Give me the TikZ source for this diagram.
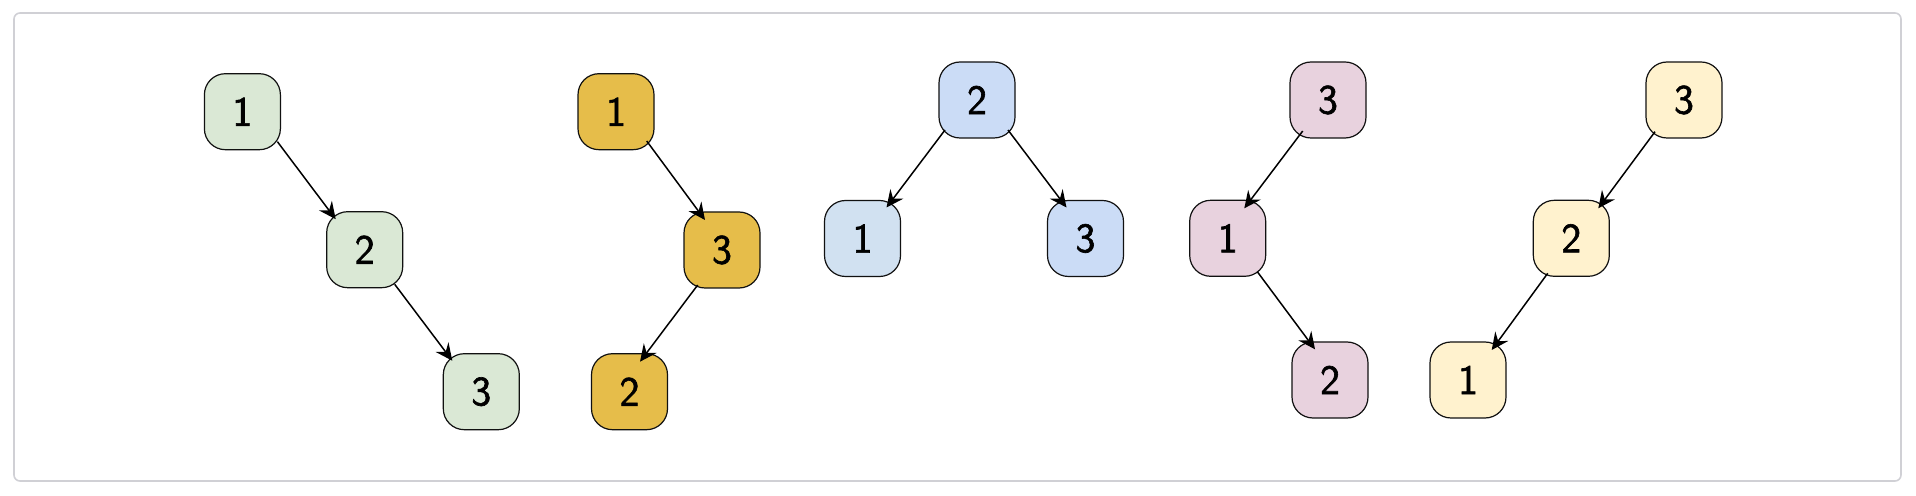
\documentclass[tikz,border=0pt]{standalone}
\usepackage{fontspec}
\newfontfamily\digitfont{Latin Modern Sans}[FakeBold=1.5]
\usetikzlibrary{calc,arrows.meta}
\definecolor{cgreen}{HTML}{DAE8D5}
\definecolor{cgold}{HTML}{E6BD4A}
\definecolor{cblue}{HTML}{CBDCF6}
\definecolor{cbluegrey}{HTML}{D1E1F1}
\definecolor{cpink}{HTML}{E8D2DE}
\definecolor{cyellow}{HTML}{FFF2CE}
\definecolor{cframe}{HTML}{D0D0D5}
\definecolor{cline}{HTML}{111111}
\begin{document}
\begin{tikzpicture}[x=0.5pt,y=-0.5pt,
  box/.style={draw=cline, line width=0.6pt, rounded corners=10.5pt,
    minimum width=38pt, minimum height=38pt, inner sep=0pt,
    font=\digitfont\fontsize{21}{24}\selectfont},
  arr/.style={-{Stealth[length=8.5pt,width=8pt,inset=3pt]}, line width=0.75pt, draw=black},
  frame/.style={draw=cframe, line width=0.8pt, rounded corners=3pt}]
\useasboundingbox (0,0) rectangle (1916,496);
\draw[frame] (14,13) rectangle (1901,481);

% green tree
\node[box, fill=cgreen] (g1) at (242.4,111.7) {1};
\node[box, fill=cgreen] (g2) at (364.7,249.7) {2};
\node[box, fill=cgreen] (g3) at (481.3,391.7) {3};
% gold tree
\node[box, fill=cgold] (o1) at (616,111.7) {1};
\node[box, fill=cgold] (o3) at (722,250) {3};
\node[box, fill=cgold] (o2) at (629.5,391.7) {2};
% blue tree
\node[box, fill=cblue] (b2) at (977,100) {2};
\node[box, fill=cbluegrey] (b1) at (862.5,238.5) {1};
\node[box, fill=cblue] (b3) at (1085.5,238.5) {3};
% pink tree
\node[box, fill=cpink] (p3) at (1328,100) {3};
\node[box, fill=cpink] (p1) at (1227.7,238.3) {1};
\node[box, fill=cpink] (p2) at (1330,380) {2};
% yellow tree
\node[box, fill=cyellow] (y3) at (1684,100) {3};
\node[box, fill=cyellow] (y2) at (1571.3,238.3) {2};
\node[box, fill=cyellow] (y1) at (1468,380) {1};

\draw[arr] ($(g1.center)+(35,30)$) -- ($(g2.center)+(-29,-30.5)$);
\draw[arr] ($(g2.center)+(30,34.6)$) -- ($(g3.center)+(-29,-31)$);
\draw[arr] ($(o1.center)+(30.7,29.3)$) -- ($(o3.center)+(-17,-30)$);
\draw[arr] ($(o3.center)+(-24.3,35)$) -- ($(o2.center)+(10.5,-30)$);
\draw[arr] ($(b2.center)+(-32,30)$) -- ($(b1.center)+(24,-31)$);
\draw[arr] ($(b2.center)+(31,30)$) -- ($(b3.center)+(-19,-31)$);
\draw[arr] ($(p3.center)+(-25.3,31)$) -- ($(p1.center)+(16.6,-30)$);
\draw[arr] ($(p1.center)+(29.6,33.4)$) -- ($(p2.center)+(-15,-30.7)$);
\draw[arr] ($(y3.center)+(-29,31.7)$) -- ($(y2.center)+(27,-30)$);
\draw[arr] ($(y2.center)+(-23.6,35)$) -- ($(y1.center)+(23.7,-30)$);
\end{tikzpicture}
\end{document}
